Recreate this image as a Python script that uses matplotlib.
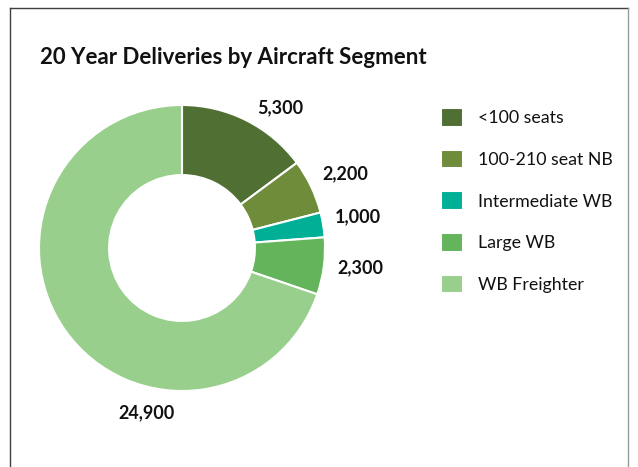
import matplotlib
matplotlib.use("Agg")
import matplotlib.pyplot as plt
from matplotlib.lines import Line2D

plt.rcParams["font.family"] = ["Lato", "DejaVu Sans"]

segments = ["<100 seats", "100-210 seat NB", "Intermediate WB", "Large WB", "WB Freighter"]
deliveries = [5300, 2200, 1000, 2300, 24900]
colors = ["#4f6f33", "#6f8c3a", "#00b096", "#64b45c", "#99cf8c"]
# label anchor positions (relative to donut centre, in radii)
label_pos = [(0.685, 0.98), (1.14, 0.52), (1.23, 0.22), (1.25, -0.135), (-0.245, -1.155)]

W, H = 638, 467
cx, cy, R = 182, 248, 143

fig = plt.figure(figsize=(W / 100, H / 100), dpi=100)
ax = fig.add_axes([0, 0, 1, 1])

wedges, _ = ax.pie(deliveries, colors=colors, startangle=90, counterclock=False,
                   radius=1.0, center=(0, 0),
                   wedgeprops=dict(width=0.49, edgecolor="white", linewidth=1.5))
ax.set_xlim(-cx / R, (W - cx) / R)
ax.set_ylim(-(H - cy) / R, cy / R)
ax.set_aspect("auto")
ax.axis("off")

for v, (x, y) in zip(deliveries, label_pos):
    ax.text(x, y, f"{v:,}", ha="center", va="center", fontsize=13,
            fontweight="bold", color="#111111")

fig.text(40 / W, 1 - 57 / H, "20 Year Deliveries by Aircraft Segment",
         fontsize=16, fontweight="bold", ha="left", va="center", color="#111111")

ax.legend(wedges, segments, loc="upper left", bbox_to_anchor=(441 / W, 1 - 108 / H),
          bbox_transform=fig.transFigure, frameon=False, fontsize=12.75,
          handlelength=1.24, handleheight=1.24, handletextpad=0.85,
          labelspacing=1.3, borderpad=0, borderaxespad=0, labelcolor="#111111")

# outer chart frame (bottom edge is cut off in the original)
fig.add_artist(Line2D([10 / W, 10 / W], [0, 1 - 8 / H], transform=fig.transFigure,
                      color="#404040", lw=1))
fig.add_artist(Line2D([10 / W, 628 / W], [1 - 8 / H, 1 - 8 / H], transform=fig.transFigure,
                      color="#404040", lw=1))
fig.add_artist(Line2D([628 / W, 628 / W], [0, 1 - 8 / H], transform=fig.transFigure,
                      color="#9a9a9a", lw=1))

fig.savefig("out.png", dpi=100)
